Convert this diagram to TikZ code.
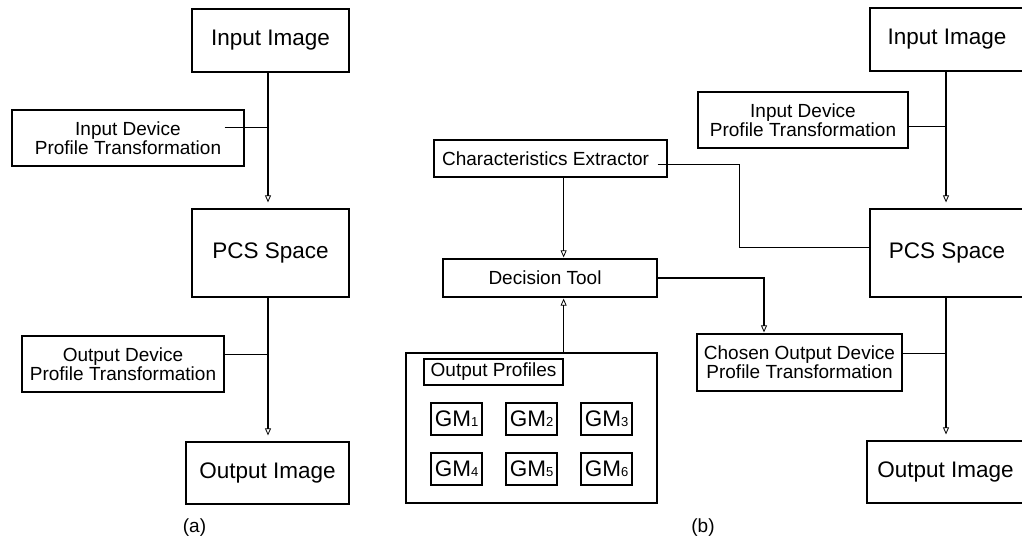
\documentclass[tikz,border=0pt]{standalone}
\usepackage{fontspec}
\setmainfont{Liberation Sans}
\usetikzlibrary{arrows.meta}

\begin{document}
\begin{tikzpicture}[x=1pt, y=1pt,
		box/.style={draw, line width=1.25pt, inner sep=0pt, align=center},
		big/.style={font=\fontsize{22.5}{26}\selectfont},
		small/.style={font=\fontsize{19}{19}\selectfont},
		spine/.style={line width=1.6pt, shorten >=6pt, -{Triangle[open, length=7pt, width=6pt, line width=0.8pt]}},
		arr/.style={line width=1.4pt, shorten >=1pt, -{Triangle[open, length=7pt, width=6pt, line width=0.8pt]}},
		side/.style={line width=1pt}]
		\useasboundingbox (0,0) rectangle (1022,539);
		% (a)
		\coordinate (sa) at (268,0);
		\node[box, big, minimum width=157pt, minimum height=63pt] (inA) at (270.5,498.5) {Input Image};
		\node[box, small, minimum width=232pt, minimum height=56pt] (idtA) at (128,401) {Input Device\\Profile Transformation};
		\node[box, big, minimum width=157pt, minimum height=88pt] (pcsA) at (270.5,286) {PCS Space};
		\node[box, small, minimum width=202pt, minimum height=56pt] (odtA) at (123,175) {Output Device\\Profile Transformation};
		\node[box, big, minimum width=163pt, minimum height=62pt] (outA) at (267.5,66) {Output Image};
		\node[small] (capA) at (194.5,11) {(a)};
		\draw[spine] (inA.south -| sa) -- (pcsA.north -| sa);
		\draw[spine] (pcsA.south -| sa) -- (outA.north -| sa);
		\draw[side] ([xshift=-20pt, yshift=10pt]idtA.east) -- ++(44,0);
		\draw[side] ([yshift=10pt]odtA.east) -- ++(44,0);
		% (b)
		\coordinate (sb) at (946,0);
		\coordinate (drop) at (764,0);
		\coordinate (bend) at (739,292);
		\node[box, big, minimum width=154pt, minimum height=63pt] (inB) at (947,499.5) {Input Image};
		\node[box, small, minimum width=210pt, minimum height=56pt] (idtB) at (803,419) {Input Device\\Profile Transformation};
		\node[box, big, minimum width=154pt, minimum height=88pt] (pcsB) at (947,286) {PCS Space};
		\node[box, small, minimum width=205pt, minimum height=57pt] (codt) at (799.5,176.5) {Chosen Output Device\\Profile Transformation};
		\node[box, big, minimum width=157pt, minimum height=62pt] (outB) at (945.5,67) {Output Image};
		\node[small] (capB) at (703,11) {(b)};
		\node[box, small, minimum width=233pt, minimum height=37pt, text depth=0pt] (ce) at (550.5,380.5) {Characteristics Extractor\hspace{10pt}};
		\node[box, small, minimum width=214pt, minimum height=38pt] (dt) at (550,261) {Decision Tool\hspace{10pt}};
		\node[box, minimum width=251pt, minimum height=150pt] (op) at (531.5,111) {};
		\node[box, small, minimum width=139pt, minimum height=26pt] (oplbl) at (493.5,167) {Output Profiles};
		\foreach \n/\x/\y in {1/456.5/120, 2/531.5/120, 3/606.5/120, 4/456.5/70, 5/531.5/70, 6/606.5/70}{
			\node[box, big, minimum width=51pt, minimum height=32pt] (gm\n) at (\x,\y) {GM{\fontsize{13}{13}\selectfont\n}};
		}
		\draw[spine] (inB.south -| sb) -- (pcsB.north -| sb);
		\draw[spine] (pcsB.south -| sb) -- (outB.north -| sb);
		\draw[side] ([yshift=-7pt]idtB.east) -- ++(38,0);
		\draw[side] ([yshift=9.5pt]codt.east) -- ++(44,0);
		\draw[arr] (ce.south -| oplbl.east) -- (dt.north -| oplbl.east);
		\draw[arr] (op.north -| oplbl.east) -- (dt.south -| oplbl.east);
		\draw[arr] (dt.east) -| (codt.north -| drop);
		\draw[side] ([xshift=-10pt, yshift=-6.5pt]ce.east) -| (bend) -- ([yshift=6pt]pcsB.west);
	\end{tikzpicture}
\end{document}
